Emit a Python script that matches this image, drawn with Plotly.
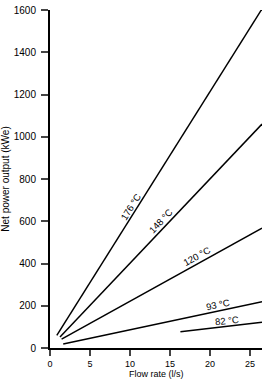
import plotly.graph_objects as go

# Data (flow rate l/s, net power kWe)
series_names = ["176 °C", "148 °C", "120 °C", "93 °C", "82 °C"]
flow_176 = [0.85, 26.5]
power_176 = [60, 1605]
flow_148 = [1.25, 26.5]
power_148 = [52, 1060]
flow_120 = [1.45, 26.5]
power_120 = [42, 567]
flow_93 = [1.65, 26.5]
power_93 = [19, 219]
flow_82 = [16.3, 26.5]
power_82 = [77, 122]

# label anchor positions (data coords) and angles
label_x = [10.0, 13.75, 18.25, 21.0, 22.1]
label_y = [667, 601, 435, 204, 128]
label_angle = [-58, -46.5, -29, -12, -6.5]

x_ticks = [0, 5, 10, 15, 20, 25]
y_ticks = [0, 200, 400, 600, 800, 1000, 1200, 1400, 1600]

flows = [flow_176, flow_148, flow_120, flow_93, flow_82]
powers = [power_176, power_148, power_120, power_93, power_82]

fig = go.Figure()
for name, fx, py in zip(series_names, flows, powers):
    fig.add_trace(go.Scatter(x=fx, y=py, mode="lines", name=name,
                             line=dict(color="black", width=1.5),
                             showlegend=False))

for name, lx, ly, ang in zip(series_names, label_x, label_y, label_angle):
    fig.add_annotation(x=lx, y=ly, text=name, showarrow=False,
                       textangle=ang, xref="x", yref="y",
                       font=dict(size=9.5, color="black",
                                 family="Liberation Sans, Arial, sans-serif"))

# x-axis title as an annotation placed just under the tick labels
fig.add_annotation(x=0.5, y=0, xref="paper", yref="paper", text="Flow rate (l/s)",
                   showarrow=False, yanchor="top", yshift=-19,
                   font=dict(size=9, color="black",
                             family="Liberation Sans, Arial, sans-serif"))

fig.update_layout(
    width=264, height=379,
    margin=dict(l=50, r=2, t=10, b=31, autoexpand=False),
    paper_bgcolor="white", plot_bgcolor="white",
    font=dict(family="Liberation Sans, Arial, sans-serif", size=10, color="black"),
)
fig.update_xaxes(range=[0, 26.5], tickvals=x_ticks, ticks="outside", ticklen=6,
                 tickwidth=2, showline=True, linecolor="black", linewidth=2,
                 showgrid=False, zeroline=False, ticklabelstandoff=0,
                 tickfont=dict(size=9))
fig.update_yaxes(range=[0, 1600], tickvals=y_ticks, ticks="outside", ticklen=7,
                 tickwidth=2, showline=True, linecolor="black", linewidth=2,
                 showgrid=False, zeroline=False, ticklabelstandoff=3,
                 title=dict(text="Net power output (kWe)", standoff=2, font=dict(size=10)),
                 tickfont=dict(size=10))

fig.write_html("out.html")
